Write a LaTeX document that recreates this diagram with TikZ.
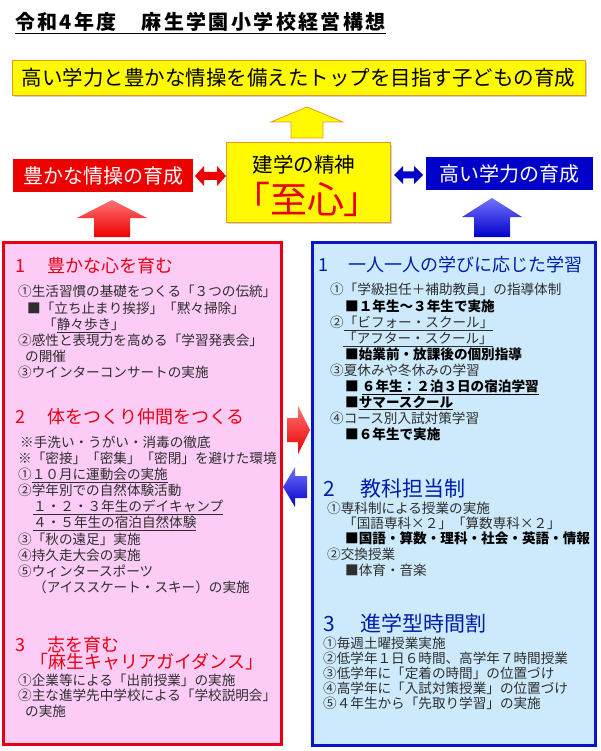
\documentclass[tikz,border=0pt]{standalone}
\usepackage{fontspec}
\setmainfont{Noto Sans CJK JP}
\newfontfamily\paltfont[RawFeature=+palt]{Noto Sans CJK JP}
\usetikzlibrary{shadows}
\definecolor{pinkbg}{RGB}{252,204,246}
\definecolor{bluebg}{RGB}{204,234,252}
\definecolor{redline}{RGB}{232,0,18}
\definecolor{blueline}{RGB}{10,20,200}
\definecolor{headred}{RGB}{232,0,18}
\definecolor{headblue}{RGB}{0,30,170}
\definecolor{boxred}{RGB}{236,0,0}
\definecolor{boxblue}{RGB}{0,0,200}
\definecolor{goalyellow}{RGB}{255,250,0}
\definecolor{goalline}{RGB}{236,150,40}

\begin{document}
\begin{tikzpicture}[x=1pt,y=-1pt,
  body/.style={anchor=west,inner sep=0pt,text height=12pt,text depth=1.6pt,text=black!82,font=\fontsize{13.6}{16}\selectfont},
  bodyb/.style={body,text=black,font=\fontsize{13.6}{16}\selectfont\bfseries},
  headr/.style={anchor=west,inner sep=0pt,text height=15.8pt,text depth=2.2pt,text=headred,font=\fontsize{18}{20}\selectfont},
  headb/.style={headr,text=headblue},
  headbig/.style={anchor=west,inner sep=0pt,text height=18.5pt,text depth=2.5pt,text=headblue,font=\fontsize{21}{24}\selectfont},
  yellowbox/.style={draw=goalline,line width=1pt,fill=goalyellow,drop shadow={opacity=0.35,shadow xshift=2pt,shadow yshift=-2pt}},
  labelbox/.style={inner sep=0pt,text=white,font=\fontsize{20}{22}\selectfont}]
\useasboundingbox (0,0) rectangle (600,751);

\node[anchor=west,inner sep=0pt,font=\fontsize{20}{22}\selectfont\bfseries\addfontfeature{LetterSpace=12}] (title) at (15,23) {\underline{令和4年度　麻生学園小学校経営構想}};

\node[yellowbox,minimum width=573pt,minimum height=35pt,font=\fontsize{20.5}{22}\selectfont] (goal) at (298.5,78) {高い学力と豊かな情操を備えたトップを目指す子どもの育成};
\filldraw[fill=goalyellow,draw=goalline,line width=0.8pt] (291,138) -- (291,122) -- (271,122) -- (307,107) -- (343,122) -- (323,122) -- (323,138) -- cycle;

\node[yellowbox,minimum width=164pt,minimum height=79pt] (spirit) at (308,182.5) {};
\node[inner sep=0pt,font=\fontsize{20.5}{22}\selectfont] (spirita) at (304,165) {建学の精神};
\node[inner sep=0pt,text=headred,font=\paltfont\fontsize{37}{40}\selectfont] (spiritb) at (307,199) {「至心」};

\node[labelbox,fill=boxred,minimum width=180pt,minimum height=33pt] (heart) at (103,175.5) {豊かな情操の育成};
\node[labelbox,fill=boxblue,minimum width=167pt,minimum height=33pt] (skill) at (509.5,173.5) {高い学力の育成};
\fill[boxred] (195,176) -- (204,166) -- (204,172) -- (217,172) -- (217,166) -- (226,176) -- (217,186) -- (217,180) -- (204,180) -- (204,186) -- cycle;
\fill[boxblue] (394,175) -- (403,166) -- (403,171.5) -- (414,171.5) -- (414,166) -- (423,175) -- (414,184) -- (414,178.5) -- (403,178.5) -- (403,184) -- cycle;

\shade[top color=red!55!white,bottom color=boxred] (94,237) -- (94,218) -- (77,218) -- (112,200) -- (147,218) -- (130,218) -- (130,237) -- cycle;
\shade[top color=blue!55!white,bottom color=boxblue] (474,237) -- (474,217) -- (462,217) -- (492,198) -- (522,217) -- (510,217) -- (510,237) -- cycle;

\node[draw=redline,line width=3pt,fill=pinkbg,minimum width=278pt,minimum height=502pt] (left) at (142,493) {};
\node[draw=blueline,line width=3pt,fill=bluebg,minimum width=283pt,minimum height=503pt] (right) at (453.5,493.5) {};

\shade[top color=red!55!white,bottom color=boxred] (287,418) -- (298,418) -- (298,406) -- (310,430) -- (298,454) -- (298,442) -- (287,442) -- cycle;
\shade[top color=blue!55!white,bottom color=boxblue] (307,476) -- (295,476) -- (295,467) -- (283,487) -- (295,507) -- (295,498) -- (307,498) -- cycle;

\node[headr] (l1) at (15,266) {1\hspace{22pt}豊かな心を育む};
\node[body] (l1a) at (18,291) {①生活習慣の基礎をつくる「３つの伝統」};
\node[body] (l1b) at (27,308) {■「立ち止まり挨拶」「黙々掃除」};
\node[body] (l1c) at (43,324) {「\underline{静々歩き}」};
\node[body] (l1d) at (18,340) {②感性と表現力を高める「学習発表会」};
\node[body] (l1e) at (25,356) {の開催};
\node[body] (l1f) at (18,372) {③ウインターコンサートの実施};

\node[headr] (l2) at (15,417) {2\hspace{22pt}体をつくり仲間をつくる};
\node[body] (l2a) at (20,442) {※手洗い・うがい・消毒の徹底};
\node[body] (l2b) at (18,458) {※「密接」「密集」「密閉」を避けた環境};
\node[body] (l2c) at (18,474) {①\underline{１０月に運動会の実施}};
\node[body] (l2d) at (18,490) {②学年別での自然体験活動};
\node[body] (l2e) at (33,506) {\underline{１・２・３年生のデイキャンプ}};
\node[body] (l2f) at (33,522) {\underline{４・５年生の宿泊自然体験}};
\node[body] (l2g) at (18,539) {③「秋の遠足」実施};
\node[body] (l2h) at (18,555) {④持久走大会の実施};
\node[body] (l2i) at (18,571) {⑤ウィンタースポーツ};
\node[body] (l2j) at (33,587) {（アイススケート・スキー）の実施};

\node[headr] (l3) at (15,645) {3\hspace{22pt}志を育む};
\node[headr] (l3x) at (30,662) {「麻生キャリアガイダンス」};
\node[body] (l3a) at (18,680) {①企業等による「出前授業」の実施};
\node[body] (l3b) at (18,695) {②主な進学先中学校による「学校説明会」};
\node[body] (l3c) at (25,711) {の実施};

\node[headb] (r1) at (318,265) {1\hspace{20pt}一人一人の学びに応じた学習};
\node[body] (r1a) at (330,289) {①「学級担任＋補助教員」の指導体制};
\node[bodyb] (r1b) at (345,306) {■１年生～３年生で実施};
\node[body] (r1c) at (330,322) {②\underline{「ビフォー・スクール」}};
\node[body] (r1d) at (343,338) {\underline{「アフター・スクール」}};
\node[bodyb] (r1e) at (345,354) {■始業前・放課後の個別指導};
\node[body] (r1f) at (330,370) {③夏休みや冬休みの学習};
\node[bodyb] (r1g) at (345,386) {■ \underline{６年生：２泊３日の宿泊学習}};
\node[bodyb] (r1h) at (345,402) {■\underline{サマースクール}};
\node[body] (r1i) at (330,418) {④コース別入試対策学習};
\node[bodyb] (r1j) at (345,434) {■６年生で実施};

\node[headbig] (r2) at (323,488) {2\hspace{26pt}教科担当制};
\node[body] (r2a) at (327,508) {①専科制による授業の実施};
\node[body] (r2b) at (343,523) {「国語専科×２」「算数専科×２」};
\node[bodyb] (r2c) at (345,538) {■国語・算数・理科・社会・英語・情報};
\node[body] (r2d) at (327,554) {②交換授業};
\node[body] (r2e) at (345,570) {■体育・音楽};

\node[headbig] (r3) at (323,623) {3\hspace{26pt}進学型時間割};
\node[body] (r3a) at (323,643) {①毎週土曜授業実施};
\node[body] (r3b) at (323,658) {②低学年１日６時間、高学年７時間授業};
\node[body] (r3c) at (323,673) {③低学年に「定着の時間」の位置づけ};
\node[body] (r3d) at (323,688) {④高学年に「入試対策授業」の位置づけ};
\node[body] (r3e) at (323,703) {⑤４年生から「先取り学習」の実施};
\end{tikzpicture}
\end{document}
